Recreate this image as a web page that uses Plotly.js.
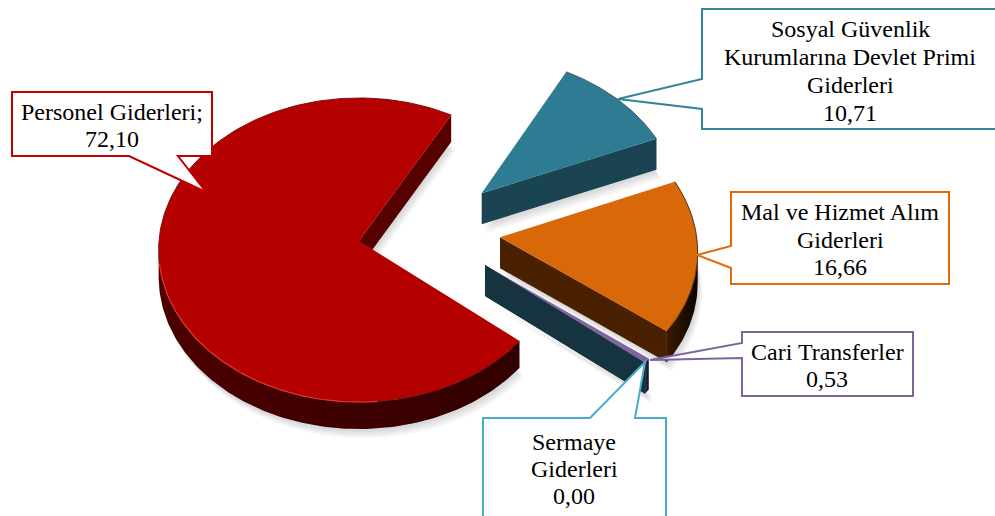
<!DOCTYPE html>
<html>
<head>
<meta charset="utf-8">
<script src="https://cdn.plot.ly/plotly-3.0.1.min.js"></script>
<style>html,body{margin:0;padding:0;background:#fff}#c{width:995px;height:516px}</style>
</head>
<body>
<div id="c"></div>
<script>
// ---- data ----
const categories = ['Personel Giderleri', 'Sermaye Giderleri', 'Cari Transferler', 'Mal ve Hizmet Alım Giderleri', 'Sosyal Güvenlik Kurumlarına Devlet Primi Giderleri'];
const values = [72.10, 0.00, 0.53, 16.66, 10.71];
const valueLabels = ['72,10', '0,00', '0,53', '16,66', '10,71'];

// ---- styles per slice ----
const topColors = ['#b50000', '#2f8aa3', '#8064a2', '#d86808', '#2e7c94'];
const cutColors = ['#560000', '#16343f', '#2a2140', '#4a2100', '#1a4452'];
const arcColors = [['#4c0000', '#320000'], ['#16343f', '#16343f'], ['#2a2a50', '#141428'], ['#3a1a00', '#0c0500'], ['#1a4452', '#1a4452']];
const rimColors = ['#7a1010', null, null, '#50300f', '#4a5a60'];
const explodeU = [0, 0.624, 0.624, 0.706, 0.625];
const explodeV = [0, -0.157, -0.157, 0.0245, 0.321];
const depths = [27, 31, 31, 31, 31];
const radii = [1, 0.96, 0.96, 0.985, 1];
const drawOrder = [0, 4, 2, 1, 3];
const startAngle = 61;

// ---- perspective projection of the tilted disc (plot units = pixels) ----
const cx = 359, cy = 241, A = 200, B = 151.5, K = 0.0592;
const proj = (u, v) => [cx + A * u / (1 + K * v), cy - B * v / (1 + K * v)];

const total = values.reduce((a, b) => a + b, 0);
let acc = startAngle;
const slices = values.map((val, i) => {
  const a0 = acc, a1 = acc + val / total * 360;
  acc = a1;
  return { i, a0, a1 };
});

const arcPts = (s, n) => {
  const out = [], r = radii[s.i];
  const steps = Math.max(2, n);
  for (let k = 0; k <= steps; k++) {
    const t = (s.a0 + (s.a1 - s.a0) * k / steps) * Math.PI / 180;
    out.push(proj(explodeU[s.i] + r * Math.cos(t), explodeV[s.i] + r * Math.sin(t)));
  }
  return out;
};

const traces = [];
const poly = (pts, extra) => traces.push(Object.assign({
  type: 'scatter', mode: 'lines', x: pts.map(p => p[0]).concat(pts[0][0]), y: pts.map(p => p[1]).concat(pts[0][1]),
  fill: 'toself', line: { width: 0 }, hoverinfo: 'skip', showlegend: false
}, extra));

// soft shadows
drawOrder.forEach(idx => {
  const s = slices[idx];
  if (s.a1 === s.a0) return;
  const arc = arcPts(s, Math.ceil(s.a1 - s.a0));
  const apex = proj(explodeU[idx], explodeV[idx]);
  const outline = [apex].concat(arc);
  [9, 7, 5, 3].forEach(o => {
    poly(outline.map(p => [p[0] + o * 0.5, p[1] + depths[idx] + o]), { fillcolor: 'rgba(0,0,0,0.035)' });
  });
});

drawOrder.forEach(idx => {
  const s = slices[idx];
  const d = depths[idx];
  const arc = arcPts(s, Math.ceil(Math.abs(s.a1 - s.a0) / 1) + 2);
  const apex = proj(explodeU[idx], explodeV[idx]);
  const first = arc[0], last = arc[arc.length - 1];

  // outer wall: the run of the arc that moves rightwards on screen
  const run = [];
  for (let k = 0; k < arc.length - 1; k++) {
    if (arc[k + 1][0] > arc[k][0]) { if (!run.length) run.push(arc[k]); run.push(arc[k + 1]); }
  }
  if (run.length > 1 && s.a1 > s.a0) {
    const wall = run.concat(run.slice().reverse().map(p => [p[0], p[1] + d]));
    poly(wall, { fillgradient: { type: 'horizontal', colorscale: [[0, arcColors[idx][0]], [1, arcColors[idx][1]]] } });
  }
  // cut faces
  if (first[0] > apex[0]) poly([apex, first, [first[0], first[1] + d], [apex[0], apex[1] + d]], { fillcolor: cutColors[idx] });
  if (apex[0] > last[0] && s.a1 > s.a0) poly([last, apex, [apex[0], apex[1] + d], [last[0], last[1] + d]], { fillcolor: cutColors[idx] });

  // top
  if (s.a1 > s.a0) {
    poly([apex].concat(arc), { fillcolor: topColors[idx] });
    if (rimColors[idx]) {
      traces.push({ type: 'scatter', mode: 'lines', x: arc.map(p => p[0]), y: arc.map(p => p[1]),
        line: { color: rimColors[idx], width: 1 }, hoverinfo: 'skip', showlegend: false });
    }
  }
  // bevel highlight on the big slice
  if (idx === 0) {
    const hl = arc.filter((p, k) => {
      const a = s.a0 + (s.a1 - s.a0) * k / (arc.length - 1);
      return a > 188 && a < 275;
    });
    traces.push({ type: 'scatter', mode: 'lines', x: hl.map(p => p[0]), y: hl.map(p => p[1]),
      line: { color: '#e03a30', width: 1.2 }, hoverinfo: 'skip', showlegend: false });
  }
});

// ---- callouts ----
const callouts = [
  { color: '#c00000', path: 'M12,92 L212,92 L212,156 L178,156 L206,192 L129,156 L12,156 Z' },
  { color: '#31859c', path: 'M702,9 L1000,9 L1000,129 L702,129 L702,109 L618,99 L702,79 Z' },
  { color: '#e36c0a', path: 'M731,192 L949,192 L949,284 L731,284 L731,268 L697,255 L731,246 Z' },
  { color: '#8064a2', path: 'M742,332 L913,332 L913,396 L742,396 L742,358 L650,360 L742,343 Z' },
  { color: '#4bacc6', path: 'M483,418 L590,418 L645,362 L635,418 L666,418 L666,530 L483,530 Z' }
];
const labelLines = [
  { x: 112, ys: [111.5, 139], text: ['Personel Giderleri;', valueLabels[0]] },
  { x: 850, ys: [28.5, 56.5, 84.5, 112.5], text: ['Sosyal Güvenlik', 'Kurumlarına Devlet Primi', 'Giderleri', valueLabels[4]] },
  { x: 840, ys: [211.5, 239.5, 266.5], text: ['Mal ve Hizmet Alım', 'Giderleri', valueLabels[3]] },
  { x: 827, ys: [351.5, 378.5], text: ['Cari Transferler', valueLabels[2]] },
  { x: 574, ys: [442, 469, 496], text: ['Sermaye', 'Giderleri', valueLabels[1]] }
];
const shapes = callouts.map(c => ({
  type: 'path', xref: 'x', yref: 'y', path: c.path, fillcolor: '#ffffff',
  line: { color: c.color, width: 2 }, layer: 'above'
}));
const annotations = [];
labelLines.forEach(l => l.text.forEach((t, k) => annotations.push({
  xref: 'x', yref: 'y', x: l.x, y: l.ys[k], text: t, showarrow: false,
  xanchor: 'center', yanchor: 'middle',
  font: { family: '"Liberation Serif", serif', size: 24, color: '#000000' }
})));

Plotly.newPlot('c', traces, {
  width: 995, height: 516,
  margin: { l: 0, r: 0, t: 0, b: 0 },
  paper_bgcolor: '#ffffff', plot_bgcolor: '#ffffff',
  showlegend: false,
  xaxis: { range: [0, 995], visible: false, fixedrange: true },
  yaxis: { range: [516, 0], visible: false, fixedrange: true },
  shapes, annotations
}, { displayModeBar: false, staticPlot: true });
</script>
</body>
</html>
